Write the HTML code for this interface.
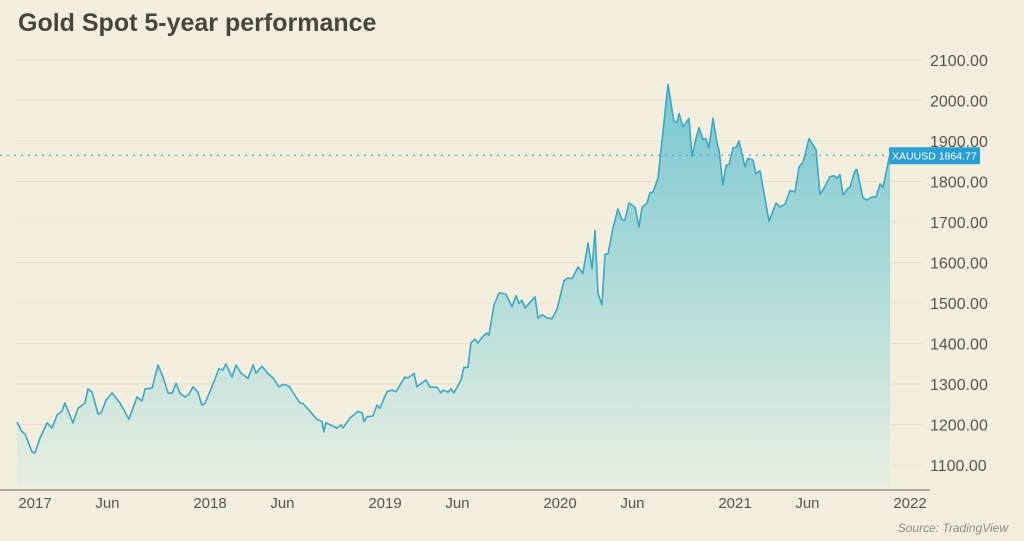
<!DOCTYPE html>
<html><head><meta charset="utf-8"><style>
body{margin:0;background:#f4eedf;width:1024px;height:536px;overflow:hidden;font-family:"Liberation Sans",sans-serif}
</style></head><body>
<svg id="chart" width="1024" height="536" xmlns="http://www.w3.org/2000/svg">
<defs><linearGradient id="fillg" x1="0" y1="0" x2="0" y2="1">
<stop offset="0" stop-color="#78c8d1"/><stop offset="1" stop-color="#e9efe1"/></linearGradient></defs>
<rect width="1024" height="536" fill="#f4eedf"/>
<text x="18" y="31" font-size="25" font-weight="bold" fill="#4a443d">Gold Spot 5-year performance</text>
<g id="grid"></g><g id="series"></g><g id="axes"></g>
<text x="1008" y="532" text-anchor="end" font-size="12" font-style="italic" fill="#8f8a82">Source: TradingView</text>
</svg>
<script>
const dates=[-0.103,-0.074,-0.057,-0.017,0,0.029,0.069,0.097,0.126,0.154,0.171,0.217,0.246,0.286,0.303,0.326,0.36,0.377,0.406,0.44,0.486,0.537,0.583,0.611,0.629,0.669,0.703,0.731,0.76,0.783,0.806,0.829,0.857,0.88,0.903,0.931,0.954,0.971,1.011,1.051,1.074,1.091,1.126,1.149,1.177,1.217,1.246,1.263,1.297,1.331,1.36,1.394,1.417,1.451,1.514,1.531,1.611,1.64,1.651,1.663,1.726,1.749,1.76,1.8,1.846,1.869,1.88,1.897,1.931,1.954,1.971,2.011,2.04,2.063,2.114,2.131,2.166,2.183,2.234,2.257,2.297,2.32,2.331,2.36,2.377,2.394,2.434,2.451,2.474,2.491,2.514,2.531,2.56,2.583,2.594,2.623,2.651,2.657,2.691,2.726,2.749,2.766,2.783,2.8,2.857,2.874,2.897,2.926,2.954,2.983,3.023,3.046,3.069,3.103,3.131,3.16,3.183,3.2,3.217,3.24,3.257,3.274,3.303,3.331,3.354,3.371,3.394,3.429,3.451,3.469,3.497,3.514,3.531,3.56,3.617,3.651,3.669,3.68,3.703,3.737,3.754,3.777,3.794,3.817,3.834,3.851,3.874,3.897,3.909,3.931,3.949,3.966,3.989,4.006,4.023,4.057,4.074,4.103,4.12,4.143,4.194,4.234,4.257,4.286,4.314,4.343,4.366,4.389,4.423,4.463,4.486,4.514,4.543,4.566,4.583,4.6,4.617,4.646,4.657,4.686,4.697,4.731,4.754,4.783,4.806,4.829,4.846,4.88,4.886];
const prices=[1206,1182,1177,1132,1130,1167,1204,1191,1223,1233,1253,1204,1240,1253,1288,1280,1226,1228,1260,1278,1253,1213,1268,1258,1288,1290,1347,1318,1278,1277,1302,1277,1268,1275,1293,1280,1248,1252,1293,1337,1335,1350,1317,1347,1327,1314,1347,1327,1344,1326,1315,1293,1299,1295,1253,1252,1213,1207,1182,1204,1191,1199,1191,1216,1232,1229,1207,1219,1221,1248,1240,1281,1285,1281,1317,1315,1326,1293,1310,1292,1292,1278,1285,1280,1288,1278,1310,1341,1341,1401,1411,1401,1418,1426,1420,1495,1524,1525,1522,1491,1518,1499,1507,1488,1515,1463,1471,1463,1461,1484,1555,1562,1560,1589,1573,1648,1584,1679,1524,1495,1621,1621,1685,1732,1705,1705,1747,1736,1688,1736,1747,1772,1774,1808,2040,1948,1946,1968,1935,1956,1862,1906,1933,1904,1906,1883,1956,1895,1877,1791,1840,1842,1884,1884,1900,1836,1857,1853,1819,1827,1702,1747,1737,1744,1778,1774,1836,1848,1906,1879,1768,1788,1812,1814,1808,1817,1767,1783,1786,1827,1829,1760,1754,1762,1762,1794,1786,1857,1864.77];
const yTicks=[2100,2000,1900,1800,1700,1600,1500,1400,1300,1200,1100];
const xTickLabels=["2017","Jun","2018","Jun","2019","Jun","2020","Jun","2021","Jun","2022"];
const xTickYears=[0,0.414,1,1.414,2,2.414,3,3.414,4,4.414,5];
const lastPrice=1864.77;
const NS="http://www.w3.org/2000/svg";
const X=t=>35+t*175;
const Y=p=>465-(p-1100)*0.405;
function mk(tag,attrs,parent){const e=document.createElementNS(NS,tag);for(const k in attrs)e.setAttribute(k,attrs[k]);parent.appendChild(e);return e;}
const grid=document.getElementById('grid'),series=document.getElementById('series'),axes=document.getElementById('axes');
yTicks.forEach(v=>{
 const l=mk('line',{x1:16,x2:922,y1:Y(v),y2:Y(v),stroke:'#e9e1cf','stroke-width':1},grid);
 
 
 const t=mk('text',{x:930,y:Y(v)+6,'font-size':16,fill:'#5a544c'},axes);
 t.textContent=v.toFixed(2);
 
 
});
let pts=dates.map((d,i)=>X(d).toFixed(1)+','+Y(prices[i]).toFixed(1));
const x0=X(dates[0]),x1=X(dates[dates.length-1]);
const area=mk('path',{d:'M'+x0+','+Y(1100-55)+' L'+pts.join(' L')+' L'+x1+','+Y(1100-55)+' Z',fill:'url(#fillg)'},series);


const line=mk('polyline',{points:pts.join(' '),fill:'none',stroke:'#3aa8c6','stroke-width':1.6,'stroke-linejoin':'round'},series);


const dl=mk('line',{x1:0,x2:x1,y1:Y(lastPrice),y2:Y(lastPrice),stroke:'#4aaec4','stroke-width':1.3,'stroke-dasharray':'2,5'},series);


const box=mk('rect',{x:x1-1,y:Y(lastPrice)-8,width:91,height:17,fill:'#2a9fd6'},series);


const bt=mk('text',{x:x1+2,y:Y(lastPrice)+4,'font-size':10.5,fill:'#ffffff'},series);
bt.textContent='XAUUSD  1864.77';


const ax=mk('line',{x1:0,x2:930,y1:490,y2:490,stroke:'#8a837a','stroke-width':1.2},axes);


xTickLabels.forEach((s,i)=>{
 const t=mk('text',{x:X(xTickYears[i]),y:508,'text-anchor':'middle','font-size':15,fill:'#5a544c'},axes);
 t.textContent=s;
 
 
});
</script>
</body></html>
